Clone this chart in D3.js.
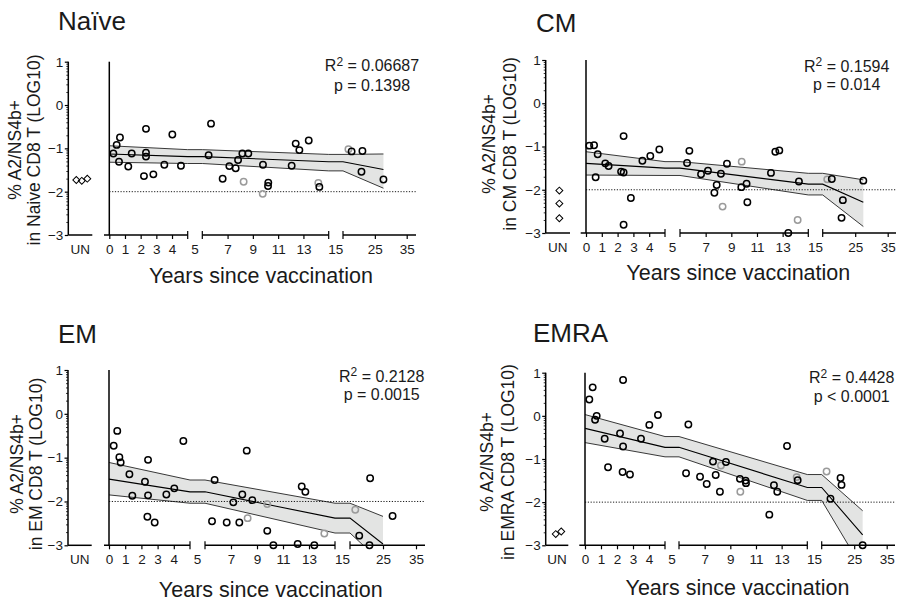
<!DOCTYPE html>
<html><head><meta charset="utf-8">
<script src="https://cdn.jsdelivr.net/npm/d3@7"></script>
<style>
body{margin:0;background:#fff}
svg{font-family:"Liberation Sans",Arial,Helvetica,sans-serif}
</style>
</head><body>
<svg id="chart" width="899" height="608"></svg>
<script>
// ---------------- DATA ----------------
const panelTitles = ["Naïve", "CM", "EM", "EMRA"];
const yLabelLine1 = "% A2/NS4b+";
const yLabelLine2 = ["in Naive CD8 T (LOG10)", "in CM CD8 T (LOG10)", "in EM CD8 T (LOG10)", "in EMRA CD8 T (LOG10)"];
const xLabel = "Years since vaccination";
const r2Values = ["0.06687", "0.1594", "0.2128", "0.4428"];
const pTexts = ["p = 0.1398", "p = 0.014", "p = 0.0015", "p < 0.0001"];
const yTickValues = [1, 0, -1, -2, -3];
const xTicksSeg1 = [0, 1, 2, 3, 4];
const xTicksSeg2 = [7, 9, 11, 13];
const xTicksSeg3 = [25, 35];
const gapLabels = ["5", "15"];
const unLabel = "UN";
const detectionLimit = -2;

// Naive
const naiveYears = [0.26,0.47,0.68,0.62,1.21,1.43,2.21,2.34,2.34,2.34,2.81,3.51,4.02,4.57,5.5,5.69,6.61,7.14,7.64,7.83,8.17,8.64,9.8,10.22,10.2,12.07,12.39,12.68,13.42,14.26,17.7,21.1,20.8,27.7];
const naiveValues = [-1.12,-0.92,-0.75,-1.31,-1.42,-1.12,-1.64,-0.55,-1.10,-1.19,-1.60,-1.38,-0.68,-1.40,-1.16,-0.43,-1.70,-1.41,-1.46,-1.27,-1.12,-1.12,-1.38,-1.79,-1.87,-1.40,-0.89,-1.04,-0.82,-1.89,-1.07,-1.06,-1.54,-1.72];
const naiveGrayYears = [8.27, 9.78, 14.18, 16.7];
const naiveGrayValues = [-1.77, -2.05, -1.80, -1.02];
const naiveUN = [-1.73, -1.75, -1.70];
const naiveFitYears = [0, 5, 15, 27.7];
const naiveFitMid = [-1.13, -1.19, -1.31, -1.49];
const naiveFitHi = [-0.94, -1.03, -1.14, -1.13];
const naiveFitLo = [-1.32, -1.35, -1.52, -1.92];

// CM
const cmYears = [0.21,0.51,0.74,0.61,1.22,1.43,2.22,2.38,2.38,2.38,2.84,3.57,4.07,4.64,5.55,5.73,6.64,7.18,7.68,7.86,8.19,8.66,9.78,10.19,10.25,12.09,12.43,12.74,13.44,14.27,17.8,21.2,20.8,27.5];
const cmValues = [-0.98,-0.97,-1.18,-1.71,-1.39,-1.45,-1.58,-1.60,-0.76,-2.81,-2.19,-1.33,-1.22,-1.07,-1.38,-1.10,-1.64,-1.56,-2.07,-1.89,-1.63,-1.40,-1.94,-1.86,-2.29,-1.61,-1.12,-1.09,-3.0,-1.81,-1.75,-2.24,-2.65,-1.79];
const cmGrayYears = [9.81, 8.32, 14.17, 16.4];
const cmGrayValues = [-1.35, -2.39, -2.70, -1.76];
const cmUN = [-2.02, -2.32, -2.66];
const cmFitYears = [0, 5, 15, 27.5];
const cmFitMid = [-1.39, -1.50, -1.87, -2.29];
const cmFitHi = [-1.12, -1.35, -1.62, -1.77];
const cmFitLo = [-1.66, -1.67, -2.12, -2.85];

// EM
const emYears = [0.29,0.51,0.64,0.72,1.26,1.44,2.22,2.41,2.41,2.37,2.82,3.54,4.03,4.59,5.54,5.74,6.67,7.18,7.64,7.87,8.21,8.64,9.79,10.26,12.13,12.44,12.72,13.41,17.8,20.9,21.1,27.9];
const emValues = [-0.73,-0.39,-0.99,-1.11,-1.38,-1.87,-1.55,-1.05,-1.86,-2.35,-2.48,-1.84,-1.70,-0.62,-2.45,-1.51,-2.48,-2.02,-2.48,-1.84,-0.84,-1.97,-2.67,-3.0,-2.97,-1.66,-1.78,-3.0,-2.78,-3.0,-1.47,-2.33];
const emGrayYears = [8.28, 9.79, 14.18, 16.6];
const emGrayValues = [-2.38, -2.06, -2.73, -2.19];
const emUN = [];
const emFitYears = [0, 5, 15, 25];
const emFitMid = [-1.49, -1.78, -2.38, -2.97];
const emFitHi = [-1.11, -1.51, -2.04, -2.34];
const emFitLo = [-1.85, -2.04, -2.72, -3.42];

// EMRA
const emraYears = [0.27,0.48,0.73,0.63,1.23,1.44,2.19,2.38,2.38,2.35,2.81,3.5,4.02,4.56,5.55,5.73,6.64,7.16,7.65,7.86,8.19,8.66,9.75,10.19,10.22,12.04,12.4,12.66,13.42,14.25,17.7,20.8,21.1,27.6];
const emraValues = [0.38,0.66,0.0,-0.09,-0.53,-1.19,-0.41,0.83,-0.71,-1.30,-1.36,-0.53,-0.21,0.02,-1.33,-0.20,-1.41,-1.58,-1.06,-1.37,-1.76,-1.07,-1.46,-1.50,-1.56,-2.29,-1.61,-1.76,-0.70,-1.49,-1.92,-1.44,-1.60,-3.0];
const emraGrayYears = [8.27, 9.78, 14.17, 16.5];
const emraGrayValues = [-1.15, -1.76, -1.42, -1.29];
const emraUN = [-2.74, -2.68];
const emraFitYears = [0, 5, 15, 27.6];
const emraFitMid = [-0.29, -0.73, -1.66, -2.76];
const emraFitHi = [0.03, -0.48, -1.36, -2.20];
const emraFitLo = [-0.62, -0.95, -1.96, -3.55];

// ---------------- LAYOUT ----------------
const layouts = [
  {unX:68.3, unEnd:92.3, axStart:104, x0:109.3, x5a:187.7, x5b:202.3, x15a:328.7, x15b:343, x35:406.7, axEnd:416, yTop:61.7, yBot:235,
   title:[58,30], stats:[372,71,90.7], ylab:[20.5,39.5,150], xlab:[261,283]},
  {unX:545.7, unEnd:570, axStart:580.7, x0:586, x5a:665, x5b:680, x15a:808.3, x15b:822.7, x35:887.7, axEnd:896, yTop:60, yBot:233,
   title:[536,31.7], stats:[846.7,71.7,90], ylab:[495,515.5,144], xlab:[738.3,280]},
  {unX:68, unEnd:91.7, axStart:104, x0:109, x5a:190, x5b:205, x15a:335, x15b:350, x35:416, axEnd:425, yTop:370, yBot:545.3,
   title:[58,342.7], stats:[381.7,381.7,400], ylab:[23,42,464], xlab:[270.8,596.7]},
  {unX:545.7, unEnd:568.3, axStart:579.3, x0:585, x5a:665, x5b:679, x15a:807.3, x15b:821.7, x35:886.7, axEnd:895, yTop:372.7, yBot:545.3,
   title:[533,341.7], stats:[851.7,383.3,401.7], ylab:[493,514,462], xlab:[737.5,595]}
];

const panelData = [
  {years:naiveYears, values:naiveValues, gYears:naiveGrayYears, gValues:naiveGrayValues, un:naiveUN, fx:naiveFitYears, mid:naiveFitMid, hi:naiveFitHi, lo:naiveFitLo},
  {years:cmYears, values:cmValues, gYears:cmGrayYears, gValues:cmGrayValues, un:cmUN, fx:cmFitYears, mid:cmFitMid, hi:cmFitHi, lo:cmFitLo},
  {years:emYears, values:emValues, gYears:emGrayYears, gValues:emGrayValues, un:emUN, fx:emFitYears, mid:emFitMid, hi:emFitHi, lo:emFitLo},
  {years:emraYears, values:emraValues, gYears:emraGrayYears, gValues:emraGrayValues, un:emraUN, fx:emraFitYears, mid:emraFitMid, hi:emraFitHi, lo:emraFitLo}
];

const svg = d3.select("#chart");
const textColor = "#1a1a1a";
const grayColor = "#9a9a9a";
const tickFont = 13.5;

panelData.forEach((D, i) => {
  const L = layouts[i];
  const g = svg.append("g");
  const y = d3.scaleLinear().domain([-3, 1]).range([L.yBot, L.yTop]);
  const s1 = d3.scaleLinear().domain([0, 5]).range([L.x0, L.x5a]);
  const s2 = d3.scaleLinear().domain([5, 15]).range([L.x5b, L.x15a]);
  const s3 = d3.scaleLinear().domain([15, 35]).range([L.x15b, L.x35]);
  const xPos = v => v < 5 ? s1(v) : (v < 15 ? s2(v) : s3(v));

  const clipId = "clip" + i;
  g.append("clipPath").attr("id", clipId).append("rect")
    .attr("x", L.x0).attr("y", L.yTop).attr("width", L.axEnd - L.x0).attr("height", L.yBot - L.yTop);

  const fitPts = [];
  D.fx.forEach((xv, k) => {
    const rec = {mid: D.mid[k], hi: D.hi[k], lo: D.lo[k]};
    if (xv === 5) { fitPts.push({px: s1(5), ...rec}); fitPts.push({px: s2(5), ...rec}); }
    else if (xv === 15) { fitPts.push({px: s2(15), ...rec}); fitPts.push({px: s3(15), ...rec}); }
    else fitPts.push({px: xPos(xv), ...rec});
  });
  const fg = g.append("g").attr("clip-path", `url(#${clipId})`);
  fg.append("path").datum(fitPts)
    .attr("d", d3.area().x(d => d.px).y0(d => y(d.lo)).y1(d => y(d.hi)))
    .attr("fill", "#e3e4e3");
  ["hi", "lo", "mid"].forEach(key => {
    fg.append("path").datum(fitPts)
      .attr("d", d3.line().x(d => d.px).y(d => y(d[key])))
      .attr("fill", "none").attr("stroke", key === "mid" ? "#000" : "#222")
      .attr("stroke-width", key === "mid" ? 1.1 : 0.9);
  });

  g.append("line").attr("x1", L.x0).attr("x2", L.axEnd)
    .attr("y1", y(detectionLimit)).attr("y2", y(detectionLimit))
    .attr("stroke", "#000").attr("stroke-width", 0.9).attr("stroke-dasharray", "1.2,1.6");

  const yAx = g.append("g").attr("transform", `translate(${L.unX},0)`)
    .call(d3.axisLeft(y).tickValues(yTickValues).tickSize(3.5).tickSizeOuter(0).tickPadding(1.5).tickFormat(d3.format("d")));
  yAx.select(".domain").remove();
  yAx.selectAll("text").attr("font-size", tickFont).attr("fill", textColor).attr("font-family", "Liberation Sans, Arial, sans-serif");
  yAx.selectAll("line").attr("stroke", "#000").attr("stroke-width", 1.2);
  const minor = [];
  [-3, -2, -1, 0].forEach(dec => { for (let k = 2; k <= 9; k++) minor.push(dec + Math.log10(k)); });
  const yMin = g.append("g").attr("transform", `translate(${L.unX},0)`)
    .call(d3.axisLeft(y).tickValues(minor).tickSize(2).tickSizeOuter(0).tickFormat(""));
  yMin.select(".domain").remove();
  yMin.selectAll("line").attr("stroke", "#000").attr("stroke-width", 0.8);
  g.append("line").attr("x1", L.unX).attr("x2", L.unX).attr("y1", L.yTop).attr("y2", L.yBot)
    .attr("stroke", "#000").attr("stroke-width", 1.5);

  g.append("line").attr("x1", L.unX).attr("x2", L.unEnd).attr("y1", L.yBot).attr("y2", L.yBot)
    .attr("stroke", "#000").attr("stroke-width", 1.5);
  g.append("text").attr("x", (L.unX + L.unEnd) / 2).attr("y", L.yBot + 18.5)
    .attr("text-anchor", "middle").attr("font-size", tickFont).attr("fill", textColor).text(unLabel);

  g.append("line").attr("x1", L.x0).attr("x2", L.x0).attr("y1", L.yTop).attr("y2", L.yBot)
    .attr("stroke", "#000").attr("stroke-width", 1.5);

  const segs = [[s1, xTicksSeg1, L.axStart, L.x5a], [s2, xTicksSeg2, L.x5b, L.x15a], [s3, xTicksSeg3, L.x15b, L.axEnd]];
  segs.forEach(([sc, tv, a, b]) => {
    const ax = g.append("g").attr("transform", `translate(0,${L.yBot})`)
      .call(d3.axisBottom(sc).tickValues(tv).tickSize(4).tickSizeOuter(0).tickPadding(5).tickFormat(d3.format("d")));
    ax.select(".domain").remove();
    ax.selectAll("text").attr("font-size", tickFont).attr("fill", textColor).attr("font-family", "Liberation Sans, Arial, sans-serif");
    ax.selectAll("line").attr("stroke", "#000").attr("stroke-width", 1.2);
    g.append("line").attr("x1", a).attr("x2", b).attr("y1", L.yBot).attr("y2", L.yBot)
      .attr("stroke", "#000").attr("stroke-width", 1.5);
  });
  [L.x5a, L.x5b, L.x15a, L.x15b].forEach(xc => {
    g.append("line").attr("x1", xc).attr("x2", xc).attr("y1", L.yBot - 4).attr("y2", L.yBot + 4)
      .attr("stroke", "#000").attr("stroke-width", 1.2);
  });
  [[gapLabels[0], (L.x5a + L.x5b) / 2], [gapLabels[1], (L.x15a + L.x15b) / 2]].forEach(([t, xc]) => {
    g.append("text").attr("x", xc).attr("y", L.yBot + 18.5).attr("text-anchor", "middle")
      .attr("font-size", tickFont).attr("fill", textColor).text(t);
  });

  const unC = (L.unX + L.unEnd) / 2 + 1.5;
  const spread = D.un.length > 1 && (d3.max(D.un) - d3.min(D.un)) < 0.15;
  const diamond = d3.symbol().type(d3.symbolSquare).size(24);
  g.selectAll(".un").data(D.un).join("path")
    .attr("d", diamond)
    .attr("transform", (d, k) => `translate(${unC + (spread ? (k - (D.un.length - 1) / 2) * 5.5 : 0)},${y(d)}) rotate(45)`)
    .attr("fill", "none").attr("stroke", "#000").attr("stroke-width", 1);

  const pts = D.years.map((xv, k) => ({x: xv, v: D.values[k]}));
  const gpts = D.gYears.map((xv, k) => ({x: xv, v: D.gValues[k]}));
  g.selectAll(".gp").data(gpts).join("circle")
    .attr("cx", d => xPos(d.x)).attr("cy", d => y(d.v)).attr("r", 3.2)
    .attr("fill", "none").attr("stroke", grayColor).attr("stroke-width", 1.5);
  g.selectAll(".bp").data(pts).join("circle")
    .attr("cx", d => xPos(d.x)).attr("cy", d => y(d.v)).attr("r", 3.2)
    .attr("fill", "none").attr("stroke", "#000").attr("stroke-width", 1.5);

  g.append("text").attr("x", L.title[0]).attr("y", L.title[1]).attr("font-size", 26)
    .attr("fill", textColor).text(panelTitles[i]);
  const st = g.append("text").attr("x", L.stats[0]).attr("y", L.stats[1]).attr("text-anchor", "middle")
    .attr("font-size", 16).attr("fill", textColor);
  st.append("tspan").text("R");
  st.append("tspan").attr("font-size", 12).attr("dy", -5.5).text("2");
  st.append("tspan").attr("dy", 5.5).text(" = " + r2Values[i]);
  g.append("text").attr("x", L.stats[0]).attr("y", L.stats[2]).attr("text-anchor", "middle")
    .attr("font-size", 16).attr("fill", textColor).text(pTexts[i]);
  g.append("text").attr("transform", `translate(${L.ylab[0]},${L.ylab[2]}) rotate(-90)`)
    .attr("text-anchor", "middle").attr("font-size", 17.5).attr("fill", textColor).text(yLabelLine1);
  g.append("text").attr("transform", `translate(${L.ylab[1]},${L.ylab[2]}) rotate(-90)`)
    .attr("text-anchor", "middle").attr("font-size", 17.5).attr("fill", textColor).text(yLabelLine2[i]);
  g.append("text").attr("x", L.xlab[0]).attr("y", L.xlab[1]).attr("text-anchor", "middle")
    .attr("font-size", 21.5).attr("fill", textColor).text(xLabel);
});
</script>
</body></html>
